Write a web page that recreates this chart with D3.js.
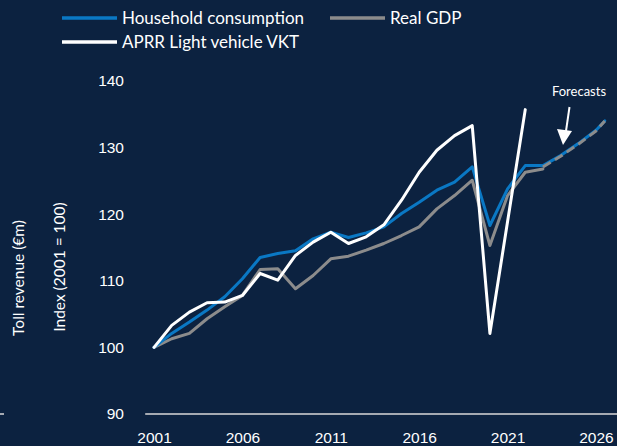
<!DOCTYPE html>
<html>
<head>
<meta charset="utf-8">
<script src="https://cdn.jsdelivr.net/npm/d3@7"></script>
<style>
  html, body { margin: 0; padding: 0; background: #0c2240; }
  svg { display: block; font-family: Lato, "Open Sans", sans-serif; }
  .tick text { fill: #ffffff; }
</style>
</head>
<body>
<script>
// data (index, 2001 = 100)
const years = d3.range(2001, 2024);
const household = [100, 102.1, 103.8, 105.6, 107.6, 110.3, 113.5, 114.1, 114.5, 116.3, 117.3, 116.5, 117.2,
  118.1, 120.1, 121.8, 123.6, 124.8, 127.1, 118.3, 123.8, 127.3, 127.3];
const realGdp = [100, 101.3, 102.1, 104.3, 106.1, 107.8, 111.7, 111.8, 108.8, 110.8, 113.3, 113.7, 114.6,
  115.6, 116.8, 118.1, 120.8, 122.8, 125.1, 115.3, 122.8, 126.3, 126.8];
const vktYears = d3.range(2001, 2023);
const vkt = [100, 103.3, 105.3, 106.7, 106.8, 107.8, 111.1, 110.1, 113.8, 115.8, 117.3, 115.6, 116.6,
  118.4, 122.1, 126.3, 129.6, 131.8, 133.3, 102.1, 118.9, 135.7];
const forecastYears = [2023, 2024, 2025, 2026, 2026.5];
const householdForecast = [127.3, 128.8, 130.6, 132.6, 134.0];
const gdpForecast = [127.1, 128.7, 130.5, 132.5, 134.0];
const yTicks = [90, 100, 110, 120, 130, 140];
const xTicks = [2001, 2006, 2011, 2016, 2021, 2026];

const width = 617;
const height = 446;
const blue = "#0a78c4";
const grey = "#8c8c8c";

const svg = d3.select("body").append("svg").attr("width", width).attr("height", height);

const xScale = d3.scaleLinear().domain([2000.5, 2027.19]).range([145.2, 617]);
const yScale = d3.scaleLinear().domain([90, 140]).range([414, 81]);

// y axis: labels only
const axisY = svg.append("g")
  .attr("transform", "translate(146,0)")
  .call(d3.axisLeft(yScale).tickValues(yTicks).tickSize(0).tickPadding(22));
axisY.select(".domain").remove();
axisY.selectAll("text").attr("font-size", 15.5);

// x axis
const axisX = svg.append("g")
  .attr("transform", "translate(0,414)")
  .call(d3.axisBottom(xScale).tickValues(xTicks).tickFormat(d3.format("d")).tickSize(0).tickPadding(18));
axisX.select(".domain").remove();
axisX.selectAll("text").attr("font-size", 15.5);
svg.append("line")
  .attr("x1", xScale.range()[0]).attr("x2", xScale.range()[1])
  .attr("y1", yScale(90)).attr("y2", yScale(90))
  .attr("stroke", "#d9d9d9").attr("stroke-width", 1.5);
// stray tick of the cut-off revenue axis
svg.append("line").attr("x1", 0).attr("x2", 4).attr("y1", yScale(90)).attr("y2", yScale(90))
  .attr("stroke", "#d9d9d9").attr("stroke-width", 1.5);

// axis titles
svg.append("text").attr("transform", "translate(24,278) rotate(-90)")
  .attr("text-anchor", "middle").attr("fill", "#fff").attr("font-size", 15.5)
  .text("Toll revenue (€m)");
svg.append("text").attr("transform", "translate(65,267) rotate(-90)")
  .attr("text-anchor", "middle").attr("fill", "#fff").attr("font-size", 15.5)
  .text("Index (2001 = 100)");

const line = d3.line().x(d => xScale(d[0])).y(d => yScale(d[1]));
const draw = (xs, ys, color, dash) => svg.append("path")
  .datum(xs.map((x, i) => [x, ys[i]]))
  .attr("d", line)
  .attr("fill", "none")
  .attr("stroke", color)
  .attr("stroke-width", 3)
  .attr("stroke-linejoin", "round")
  .attr("stroke-linecap", "round")
  .attr("stroke-dasharray", dash);

draw(years, realGdp, grey, null);
draw(years, household, blue, null);
draw(vktYears, vkt, "#ffffff", null);
draw(forecastYears, householdForecast, blue, null);
draw(forecastYears, gdpForecast, grey, "9 5").attr("stroke-linecap", "butt");

// forecast annotation
svg.append("text").attr("x", 579).attr("y", 96).attr("text-anchor", "middle")
  .attr("fill", "#fff").attr("font-size", 13).text("Forecasts");
svg.append("line").attr("x1", 569.5).attr("y1", 107).attr("x2", 566).attr("y2", 131)
  .attr("stroke", "#fff").attr("stroke-width", 2);
svg.append("path").attr("d", "M557,129 L572,131 L563,145 Z").attr("fill", "#fff");

// legend
const legend = [
  { label: "Household consumption", color: blue, x: 62, y: 18 },
  { label: "Real GDP", color: grey, x: 330, y: 18 },
  { label: "APRR Light vehicle VKT", color: "#ffffff", x: 62, y: 42 }
];
const lg = svg.append("g").selectAll("g").data(legend).enter().append("g")
  .attr("transform", d => "translate(" + d.x + "," + d.y + ")");
lg.append("line").attr("x1", 0).attr("x2", 55).attr("stroke", d => d.color).attr("stroke-width", 3.5);
lg.append("text").attr("x", 60).attr("y", 6).attr("fill", "#fff").attr("font-size", 17)
  .text(d => d.label);
</script>
</body>
</html>
